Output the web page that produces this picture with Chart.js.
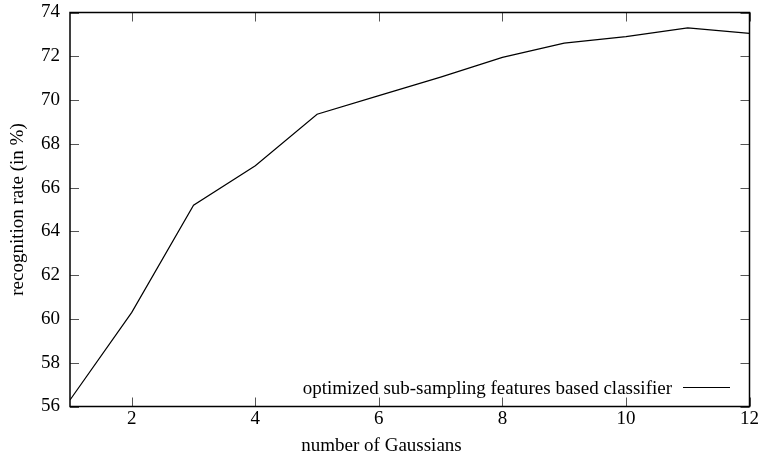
<!DOCTYPE html>
<html>
<head>
<meta charset="utf-8">
<script src="https://cdn.jsdelivr.net/npm/chart.js@4/dist/chart.umd.min.js"></script>
<style>
  body { margin: 0; background: #fff; }
</style>
</head>
<body>
<canvas id="rateChart" width="760" height="462"></canvas>
<script>
// recognition rate against the number of Gaussians
var gaussians = [1, 2, 3, 4, 5, 6, 7, 8, 9, 10, 11, 12];
var recognitionRate = [56.3, 60.3, 65.2, 67.0, 69.35, 70.2, 71.05, 71.95, 72.6, 72.9, 73.3, 73.05];
var xTickValues = [2, 4, 6, 8, 10, 12];
var yTickValues = [56, 58, 60, 62, 64, 66, 68, 70, 72, 74];
var seriesName = 'optimized sub-sampling features based classifier';
var xTitle = 'number of Gaussians';
var yTitle = 'recognition rate (in %)';

var serif = { family: '"Liberation Serif", "Times New Roman", serif', size: 19 };

// gnuplot style frame: box round the plot with inward ticks on every side
var framePlugin = {
    id: 'frame',
    afterDraw: function(chart) {
        var ctx = chart.ctx;
        var a = chart.chartArea;
        var xs = chart.scales.x, ys = chart.scales.y;
        ctx.save();
        ctx.strokeStyle = '#555';
        ctx.lineWidth = 1;
        xTickValues.forEach(function(v) {
            var px = Math.round(xs.getPixelForValue(v)) + 0.5;
            ctx.beginPath();
            ctx.moveTo(px, a.bottom); ctx.lineTo(px, a.bottom - 9);
            ctx.moveTo(px, a.top); ctx.lineTo(px, a.top + 9);
            ctx.stroke();
        });
        yTickValues.forEach(function(v) {
            var py = Math.round(ys.getPixelForValue(v)) + 0.5;
            ctx.beginPath();
            ctx.moveTo(a.left, py); ctx.lineTo(a.left + 9, py);
            ctx.moveTo(a.right, py); ctx.lineTo(a.right - 9, py);
            ctx.stroke();
        });
        ctx.strokeStyle = '#000';
        ctx.lineWidth = 1.5;
        ctx.strokeRect(a.left, a.top, a.right - a.left, a.bottom - a.top);

        ctx.font = serif.size + 'px ' + serif.family;
        ctx.fillStyle = '#000';
        ctx.textBaseline = 'middle';

        // x title sits centred on the whole canvas width, not the plot
        ctx.textAlign = 'center';
        ctx.fillText(xTitle, 381.5, 446);

        // key in the lower right corner: text, then the line sample
        var ds = chart.data.datasets[0];
        ctx.textAlign = 'right';
        ctx.fillText(ds.label, 672, 389);
        ctx.strokeStyle = ds.borderColor;
        ctx.lineWidth = ds.borderWidth;
        ctx.beginPath();
        ctx.moveTo(683, 387.5); ctx.lineTo(730, 387.5);
        ctx.stroke();
        ctx.restore();
    }
};

function noEdgePadding(scale) {
    scale.paddingTop = 0;
    scale.paddingBottom = 0;
    scale.paddingLeft = 0;
    scale.paddingRight = 0;
}

var ctx = document.getElementById('rateChart').getContext('2d');
var myChart = new Chart(ctx, {
    type: 'line',
    data: {
        labels: gaussians,
        datasets: [{
            label: seriesName,
            data: gaussians.map(function(g, i) { return { x: g, y: recognitionRate[i] }; }),
            borderColor: '#000',
            borderWidth: 1.2,
            pointRadius: 0,
            tension: 0,
            fill: false
        }]
    },
    options: {
        responsive: false,
        animation: false,
        layout: { padding: { left: 0, right: 10.5, top: 12.5, bottom: 0 } },
        plugins: {
            legend: { display: false },
            tooltip: { enabled: false }
        },
        scales: {
            x: {
                type: 'linear',
                min: 1,
                max: 12,
                afterBuildTicks: function(scale) {
                    scale.ticks = xTickValues.map(function(v) { return { value: v }; });
                },
                afterFit: function(scale) { scale.height = 55.5; noEdgePadding(scale); },
                grid: { display: false, drawTicks: false },
                border: { display: false },
                ticks: { color: '#000', font: serif, padding: 1, maxRotation: 0 }
            },
            y: {
                min: 56,
                max: 74,
                afterBuildTicks: function(scale) {
                    scale.ticks = yTickValues.map(function(v) { return { value: v }; });
                },
                afterFit: function(scale) { scale.width = 70; noEdgePadding(scale); },
                grid: { display: false, drawTicks: false },
                border: { display: false },
                ticks: { color: '#000', font: serif, padding: 10 },
                title: {
                    display: true,
                    text: yTitle,
                    color: '#000',
                    font: serif,
                    padding: { top: 6.5, bottom: 0 }
                }
            }
        }
    },
    plugins: [framePlugin]
});
</script>
</body>
</html>
